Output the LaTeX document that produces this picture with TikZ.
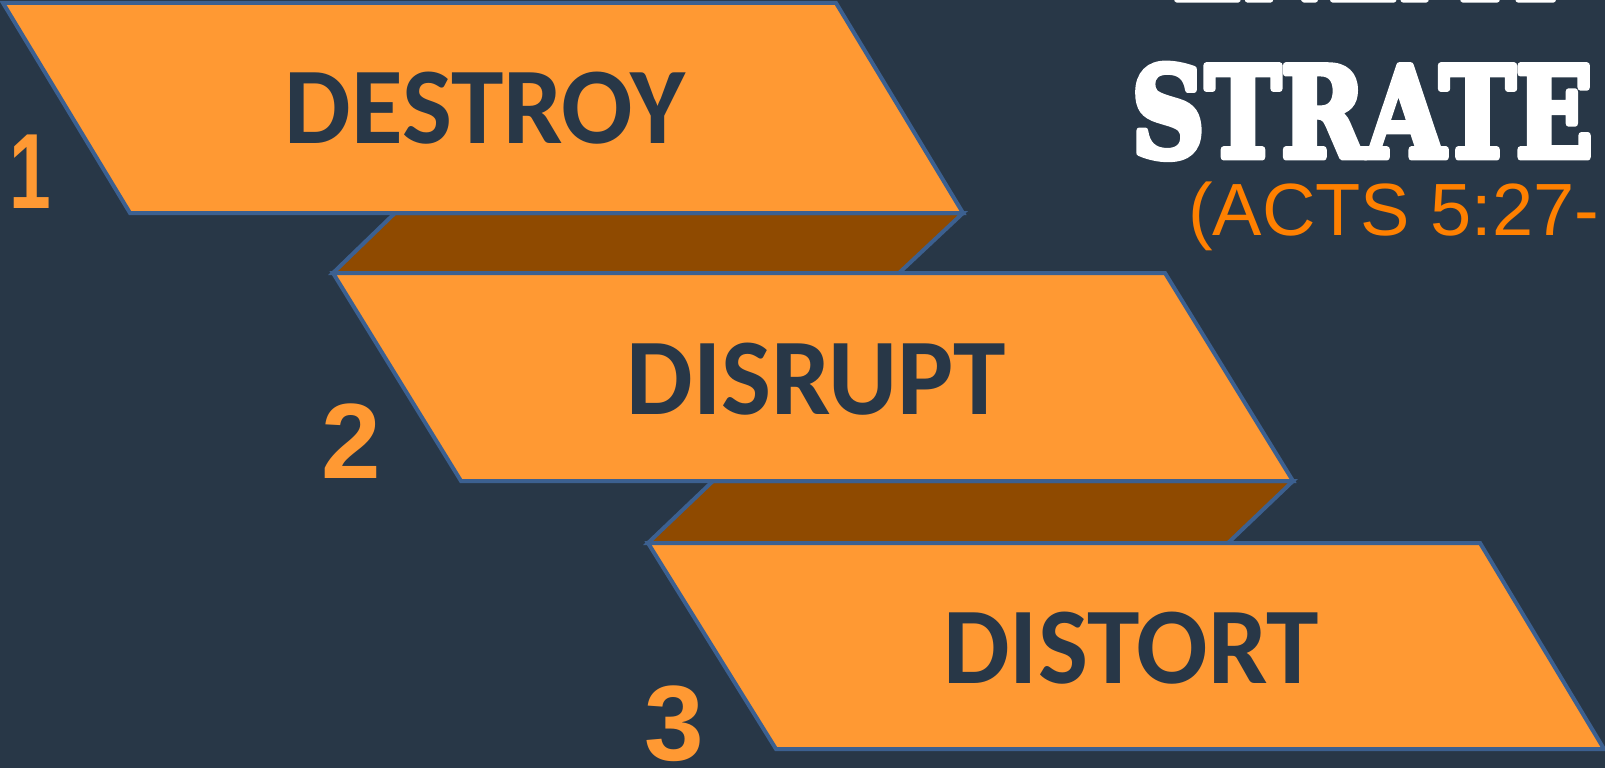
\documentclass[tikz,border=0pt]{standalone}
\usepackage{fontspec}
\setmainfont{Carlito}
\newfontfamily\numfont{Liberation Sans}
\newfontfamily\slabfont{DejaVu Serif}
\definecolor{bgc}{HTML}{283747}
\definecolor{orangec}{HTML}{FF9933}
\definecolor{brownc}{HTML}{8F4A00}
\definecolor{edgec}{HTML}{3C6090}
\definecolor{refc}{HTML}{FF8000}
\newcommand{\heavytext}[1]{\special{pdf:literal direct 2 Tr 7 w 1 j}#1\special{pdf:literal direct 0 Tr}}
\tikzset{
  panel/.style={fill=orangec, draw=edgec, line width=4pt, line join=miter},
  band/.style={fill=brownc, draw=edgec, line width=4pt, line join=miter},
  word/.style={font=\bfseries\fontsize{109}{109}\selectfont, text=bgc, inner sep=0pt, anchor=base},
  num/.style={font=\numfont\bfseries\fontsize{107}{107}\selectfont, text=orangec, inner sep=0pt, anchor=base},
  slab/.style={font=\slabfont\bfseries\fontsize{129}{129}\selectfont, text=white, inner sep=0pt, anchor=base west},
}
\begin{document}
\begin{tikzpicture}[x=1pt,y=-1pt]
\fill[bgc] (0,0) rectangle (1605,768);
\useasboundingbox (0,0) rectangle (1605,768);
\clip (0,0) rectangle (1605,768);
% coordinates
\coordinate (a1) at (3,3);     \coordinate (b1) at (836,3);
\coordinate (c1) at (963,213); \coordinate (d1) at (130,213);
\coordinate (e1) at (395,213); \coordinate (f1) at (899,273);
\coordinate (a2) at (333,273); \coordinate (b2) at (1165,273);
\coordinate (c2) at (1293,481);\coordinate (d2) at (461,481);
\coordinate (e2) at (713,481); \coordinate (f2) at (1228,543);
\coordinate (a3) at (648,543); \coordinate (b3) at (1480,543);
\coordinate (c3) at (1604,749);\coordinate (d3) at (776,749);
% bands
\draw[band] (e1) -- (c1) -- (f1) -- (a2) -- cycle;
\draw[band] (e2) -- (c2) -- (f2) -- (a3) -- cycle;
% panels
\draw[panel] (a1) -- (b1) -- (c1) -- (d1) -- cycle;
\draw[panel] (a2) -- (b2) -- (c2) -- (d2) -- cycle;
\draw[panel] (a3) -- (b3) -- (c3) -- (d3) -- cycle;
% words
\node[word] (w1) at (485,143) {\scalebox{0.97}[1]{DESTROY}};
\node[word] (w2) at (816,414) {\scalebox{0.97}[1]{DISRUPT}};
\node[word] (w3) at (1131,683) {\scalebox{0.97}[1]{DISTORT}};
% numbers
\node[num] (n1) at (30,208) {\scalebox{0.7}[1]{1}};
\node[num] (n2) at (351,478) {2};
\node[num] (n3) at (674,760) {3};
% title
\node[slab] (t0) at (1172,-1) {\resizebox{396pt}{94pt}{\heavytext{ENEMY}}};
\node[slab] (t1) at (1131,157) {\resizebox{462pt}{93pt}{\heavytext{STRATE}}};
\node[inner sep=0pt, anchor=base west, text=refc, font=\numfont\fontsize{74}{74}\selectfont] (t2) at (1188,235) {(ACTS 5:27-};
\end{tikzpicture}
\end{document}
